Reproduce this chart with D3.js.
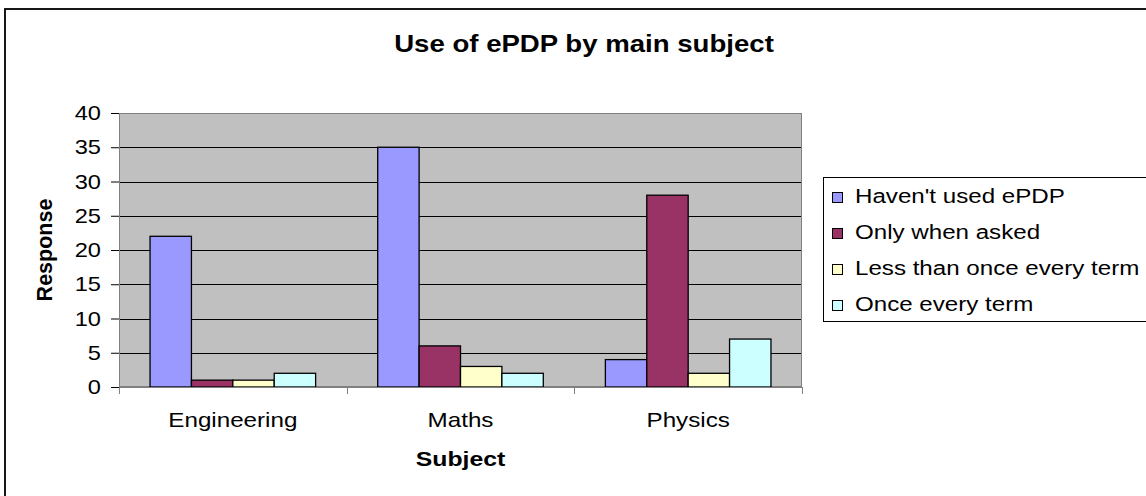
<!DOCTYPE html>
<html>
<head>
<meta charset="utf-8">
<script src="https://cdn.jsdelivr.net/npm/d3@7"></script>
<style>
  html, body { margin: 0; padding: 0; background: #fff; }
  svg { display: block; font-family: "Liberation Sans", Arial, sans-serif; }
</style>
</head>
<body>
<svg id="chart" width="1146" height="496"></svg>
<script>
// Survey responses: how often students use ePDP, split by main subject
const subjects = ["Engineering", "Maths", "Physics"];
const seriesNames = ["Haven't used ePDP", "Only when asked", "Less than once every term", "Once every term"];
const havenTUsed = [22, 35, 4];
const onlyWhenAsked = [1, 6, 28];
const lessThanOnce = [1, 3, 2];
const onceEveryTerm = [2, 2, 7];
const seriesColors = ["#9999FF", "#993366", "#FFFFCC", "#CCFFFF"];
const yTicks = [0, 5, 10, 15, 20, 25, 30, 35, 40];

const seriesValues = [havenTUsed, onlyWhenAsked, lessThanOnce, onceEveryTerm];

const svg = d3.select("#chart");
const plot = { left: 119, top: 113, right: 802, bottom: 387 };
const SX = 1.18; // wide text rendering

// Text drawn slightly widened horizontally
function wideText(parent, x, y, str, size, opts = {}) {
  return parent.append("text")
    .attr("transform", `translate(${x},${y}) scale(${opts.sx || SX},1)`)
    .attr("text-anchor", opts.anchor || "start")
    .attr("font-size", size)
    .attr("font-weight", opts.weight || "normal")
    .attr("fill", "#000")
    .text(str);
}

// Outer chart frame
svg.append("rect")
  .attr("x", 5).attr("y", 9)
  .attr("width", 1160).attr("height", 500)
  .attr("fill", "#fff").attr("stroke", "#000").attr("stroke-width", 1.8);

// Scales
const x0 = d3.scaleBand().domain(subjects).range([plot.left, plot.right]).paddingInner(0).paddingOuter(0);
const bw = x0.bandwidth() / 5.5;
const x1 = d3.scaleBand().domain(d3.range(4)).range([0.75 * bw, 4.75 * bw]);
const y = d3.scaleLinear().domain([0, 40]).range([plot.bottom, plot.top]);

// Plot area background
svg.append("rect")
  .attr("x", plot.left).attr("y", plot.top)
  .attr("width", plot.right - plot.left).attr("height", plot.bottom - plot.top)
  .attr("fill", "#C0C0C0");

// Horizontal gridlines
svg.append("g").selectAll("line").data(yTicks.filter(d => d > 0 && d < 40)).join("line")
  .attr("x1", plot.left).attr("x2", plot.right)
  .attr("y1", d => Math.round(y(d)) + 0.5).attr("y2", d => Math.round(y(d)) + 0.5)
  .attr("stroke", "#000").attr("stroke-width", 1);

// Plot area border
svg.append("rect")
  .attr("x", plot.left + 0.5).attr("y", plot.top + 0.5)
  .attr("width", plot.right - plot.left - 1).attr("height", plot.bottom - plot.top - 1)
  .attr("fill", "none").attr("stroke", "#808080").attr("stroke-width", 1);

// Bars
const groups = svg.append("g").selectAll("g").data(subjects).join("g")
  .attr("transform", d => `translate(${x0(d)},0)`);
groups.selectAll("rect")
  .data((d, i) => seriesValues.map((s, k) => ({ k, v: s[i] })))
  .join("rect")
  .attr("x", d => x1(d.k))
  .attr("y", d => y(d.v))
  .attr("width", x1.bandwidth())
  .attr("height", d => y(0) - y(d.v))
  .attr("fill", d => seriesColors[d.k])
  .attr("stroke", "#000").attr("stroke-width", 1.3);

// Y axis (ticks from d3, labels drawn widened)
const yAxis = d3.axisLeft(y).tickValues(yTicks).tickSize(8).tickFormat("");
const gy = svg.append("g").attr("transform", `translate(${plot.left},0)`).call(yAxis);
gy.select(".domain").attr("stroke", "#808080");
gy.selectAll(".tick line").attr("stroke", "#000");
const yLabels = svg.append("g");
yTicks.forEach(t => wideText(yLabels, 101, y(t) + 7, String(t), 20, { anchor: "end" }));

// X axis: ticks at category boundaries
const gx = svg.append("g").attr("transform", `translate(0,${plot.bottom})`);
gx.append("line").attr("x1", plot.left).attr("x2", plot.right)
  .attr("y1", 0.5).attr("y2", 0.5).attr("stroke", "#808080");
const boundaries = subjects.map(s => x0(s)).concat([plot.right]);
gx.selectAll("line.tk").data(boundaries).join("line").attr("class", "tk")
  .attr("x1", d => Math.round(d) + 0.5).attr("x2", d => Math.round(d) + 0.5)
  .attr("y1", 0).attr("y2", 7).attr("stroke", "#808080");
subjects.forEach(s => wideText(gx, x0(s) + x0.bandwidth() / 2, 40, s, 20.5, { anchor: "middle" }));

// Titles
wideText(svg, 584, 52, "Use of ePDP by main subject", 23, { anchor: "middle", weight: "bold", sx: 1.2 });
wideText(svg, (plot.left + plot.right) / 2, 466, "Subject", 21, { anchor: "middle", weight: "bold" });
svg.append("text")
  .attr("transform", `translate(52,${(plot.top + plot.bottom) / 2}) rotate(-90)`)
  .attr("text-anchor", "middle")
  .attr("font-size", 21.5).attr("font-weight", "bold").text("Response");

// Legend
svg.append("rect").attr("x", 823.5).attr("y", 177.5)
  .attr("width", 400).attr("height", 144)
  .attr("fill", "#fff").attr("stroke", "#000").attr("stroke-width", 1);
const legend = svg.append("g").selectAll("g").data(seriesNames).join("g")
  .attr("transform", (d, i) => `translate(832,${203 + i * 36})`);
legend.append("rect").attr("x", 0.5).attr("y", -10.5).attr("width", 10).attr("height", 10)
  .attr("fill", (d, i) => seriesColors[i]).attr("stroke", "#000").attr("stroke-width", 1);
legend.each(function (d) { wideText(d3.select(this), 23, 0, d, 21, { sx: 1.15 }); });
</script>
</body>
</html>
